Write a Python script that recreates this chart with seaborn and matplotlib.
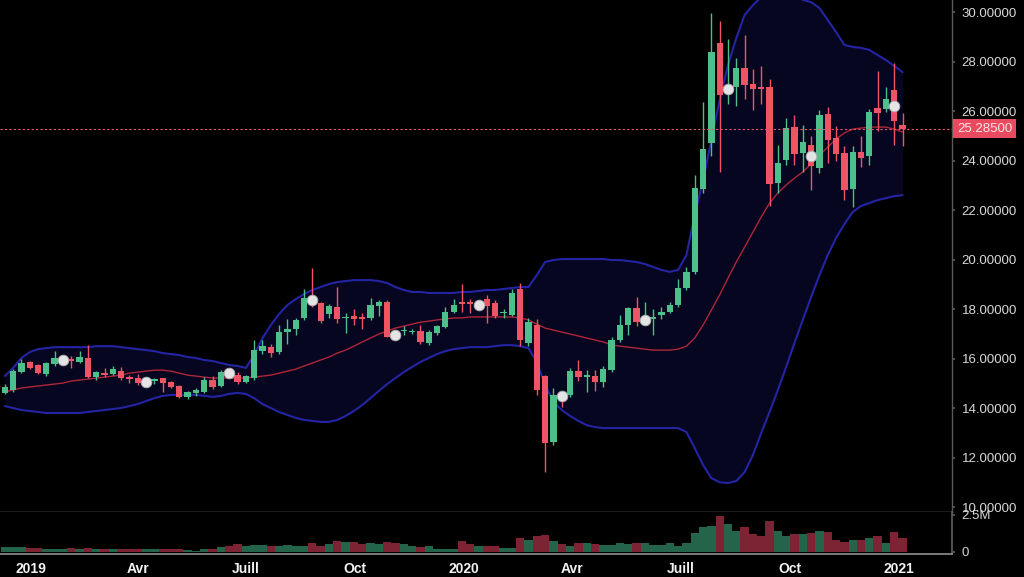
import numpy as np
import pandas as pd
import seaborn as sns
import matplotlib.pyplot as plt
import matplotlib.transforms as mtransforms

# --- weekly candles (first week = 2018-12-10) ---
first_week = "2018-12-10"
opens = [14.62, 14.72, 15.45, 15.86, 15.74, 15.37, 15.78, 15.90, 15.96, 15.86,
         16.02, 15.25, 15.41, 15.37, 15.50, 15.25, 15.20, 15.00, 15.10, 15.20,
         15.05, 14.89, 14.44, 14.60, 14.65, 15.13, 14.89, 15.45, 15.33, 15.05,
         15.20, 16.30, 16.46, 16.26, 17.07, 17.20, 17.64, 18.45, 18.24, 17.80,
         18.08, 17.62, 17.72, 17.68, 17.64, 18.12, 18.28, 17.00, 17.12, 17.08,
         17.10, 16.63, 17.03, 17.27, 17.88, 18.28, 18.26, 18.10, 18.40, 18.24,
         17.82, 17.76, 18.80, 16.63, 17.35, 15.29, 12.63, 14.55, 14.53, 15.50,
         15.27, 15.29, 15.05, 15.53, 16.75, 17.35, 18.04, 17.50, 17.60, 17.76,
         17.88, 18.16, 18.85, 19.50, 22.85, 24.70, 28.75, 26.75, 26.97, 27.74,
         27.09, 26.97, 26.97, 23.10, 24.02, 25.35, 24.30, 24.63, 23.70, 25.88,
         24.90, 24.30, 22.85, 24.34, 24.18, 26.12, 26.08, 26.85, 25.45]
highs = [14.97, 15.57, 15.98, 15.90, 15.78, 15.86, 16.30, 16.10, 16.10, 16.30,
         16.55, 15.50, 15.60, 15.70, 15.65, 15.33, 15.37, 15.10, 15.20, 15.20,
         15.10, 14.93, 14.70, 14.80, 15.25, 15.30, 15.55, 15.55, 15.45, 15.35,
         16.75, 16.75, 16.60, 17.35, 17.60, 17.65, 18.80, 19.65, 18.30, 18.20,
         18.90, 17.84, 18.00, 17.84, 18.45, 18.35, 18.35, 17.10, 17.30, 17.20,
         17.35, 17.15, 17.35, 18.10, 18.40, 19.00, 18.40, 18.30, 18.55, 18.35,
         18.00, 18.80, 19.05, 17.65, 17.60, 15.35, 14.80, 14.60, 15.60, 15.94,
         15.53, 15.53, 15.70, 16.87, 17.75, 18.10, 18.48, 18.30, 18.00, 18.10,
         18.30, 19.20, 19.70, 23.40, 26.36, 29.95, 29.64, 28.90, 28.14, 29.07,
         27.70, 27.82, 27.30, 24.63, 25.70, 25.85, 25.45, 25.00, 26.04, 26.15,
         25.40, 24.60, 24.60, 25.00, 26.10, 27.62, 26.95, 27.95, 25.90]
lows = [14.58, 14.65, 15.41, 15.57, 15.37, 15.29, 15.70, 15.80, 15.62, 15.82,
        15.20, 15.15, 15.25, 15.33, 15.13, 15.00, 14.95, 14.95, 14.97, 14.65,
        14.80, 14.40, 14.38, 14.50, 14.60, 14.75, 14.85, 15.25, 14.98, 15.00,
        15.15, 16.20, 16.06, 16.20, 16.60, 16.95, 17.55, 18.10, 17.45, 17.65,
        17.43, 17.03, 17.35, 17.20, 17.55, 17.70, 16.85, 16.80, 16.95, 17.00,
        16.60, 16.55, 16.95, 17.25, 17.85, 17.88, 17.84, 18.00, 17.43, 17.65,
        17.65, 17.70, 16.50, 16.50, 14.53, 11.41, 12.50, 14.04, 14.45, 15.10,
        14.65, 14.69, 14.85, 15.45, 16.67, 16.95, 17.30, 17.45, 16.95, 17.60,
        17.82, 18.10, 18.75, 19.40, 22.70, 24.18, 23.54, 26.30, 26.20, 26.48,
        26.04, 26.30, 22.16, 22.69, 23.80, 23.80, 23.55, 22.80, 23.50, 23.90,
        24.00, 22.40, 22.12, 23.75, 23.80, 25.20, 25.95, 24.63, 24.60]
closes = [14.85, 15.50, 15.82, 15.62, 15.41, 15.82, 16.02, 15.98, 15.92, 16.06,
          15.25, 15.45, 15.33, 15.57, 15.20, 15.17, 15.00, 15.05, 15.17, 15.00,
          14.85, 14.44, 14.65, 14.73, 15.13, 14.85, 15.45, 15.35, 15.05, 15.29,
          16.34, 16.50, 16.22, 17.07, 17.20, 17.56, 18.44, 18.30, 17.52, 18.12,
          17.60, 17.66, 17.60, 17.60, 18.16, 18.28, 16.87, 16.92, 17.15, 17.12,
          16.67, 17.07, 17.30, 17.88, 18.16, 18.20, 18.22, 18.18, 18.12, 17.72,
          17.86, 18.65, 16.75, 17.47, 14.73, 12.59, 14.53, 14.45, 15.50, 15.25,
          15.31, 15.05, 15.57, 16.75, 17.35, 18.04, 17.47, 17.58, 17.68, 17.88,
          18.16, 18.85, 19.50, 22.89, 24.46, 28.38, 26.65, 26.95, 27.74, 27.05,
          26.89, 26.89, 23.05, 23.90, 25.31, 24.26, 24.75, 23.78, 25.84, 24.83,
          24.26, 22.80, 24.34, 24.10, 25.96, 25.92, 26.48, 25.60, 25.285]
volume_m = [0.30, 0.30, 0.30, 0.25, 0.25, 0.20, 0.20, 0.20, 0.25, 0.20,
            0.25, 0.15, 0.20, 0.20, 0.15, 0.20, 0.20, 0.15, 0.15, 0.20,
            0.20, 0.20, 0.08, 0.05, 0.15, 0.20, 0.30, 0.35, 0.50, 0.35,
            0.45, 0.45, 0.35, 0.40, 0.45, 0.35, 0.40, 0.55, 0.35, 0.50,
            0.75, 0.65, 0.65, 0.50, 0.55, 0.50, 0.65, 0.55, 0.50, 0.35,
            0.30, 0.35, 0.20, 0.15, 0.15, 0.70, 0.50, 0.35, 0.35, 0.35,
            0.25, 0.25, 0.90, 0.80, 1.05, 1.10, 0.70, 0.50, 0.40, 0.55,
            0.55, 0.50, 0.45, 0.45, 0.60, 0.50, 0.60, 0.55, 0.45, 0.45,
            0.55, 0.40, 0.60, 1.25, 1.70, 1.75, 2.40, 1.90, 1.40, 1.70,
            1.20, 1.05, 2.10, 1.40, 1.05, 1.20, 1.20, 1.25, 1.40, 1.30,
            0.80, 0.65, 0.80, 0.80, 0.90, 1.05, 0.60, 1.30, 0.90]

# --- Bollinger bands as drawn on the chart ---
upper_band = [15.29, 15.62, 16.02, 16.26, 16.38, 16.42, 16.46, 16.46, 16.46, 16.46,
              16.46, 16.50, 16.50, 16.50, 16.46, 16.42, 16.38, 16.34, 16.30, 16.22,
              16.18, 16.14, 16.06, 16.02, 15.94, 15.90, 15.82, 15.74, 15.70, 15.62,
              16.14, 16.83, 17.35, 17.80, 18.16, 18.40, 18.60, 18.77, 18.89, 19.01,
              19.09, 19.13, 19.17, 19.17, 19.17, 19.13, 19.05, 18.89, 18.77, 18.69,
              18.69, 18.65, 18.65, 18.65, 18.65, 18.69, 18.69, 18.73, 18.77, 18.77,
              18.81, 18.85, 18.89, 18.89, 19.37, 19.90, 19.98, 20.02, 20.02, 20.02,
              20.02, 20.02, 20.02, 19.98, 19.98, 19.94, 19.90, 19.82, 19.70, 19.58,
              19.50, 19.58, 20.18, 21.80, 23.21, 24.83, 26.45, 27.86, 28.95, 29.88,
              30.28, 30.60, 30.80, 30.89, 30.80, 30.69, 30.49, 30.40, 30.16, 29.68,
              29.19, 28.67, 28.59, 28.55, 28.47, 28.26, 28.06, 27.82, 27.57]
middle_band = [14.65, 14.73, 14.81, 14.85, 14.89, 14.93, 14.97, 15.01, 15.09, 15.13,
               15.17, 15.21, 15.25, 15.29, 15.33, 15.41, 15.45, 15.49, 15.53, 15.53,
               15.49, 15.41, 15.33, 15.29, 15.25, 15.21, 15.21, 15.21, 15.21, 15.21,
               15.25, 15.29, 15.33, 15.41, 15.49, 15.57, 15.70, 15.82, 15.94, 16.06,
               16.22, 16.34, 16.50, 16.67, 16.83, 16.99, 17.11, 17.23, 17.31, 17.39,
               17.47, 17.51, 17.56, 17.60, 17.64, 17.64, 17.68, 17.68, 17.68, 17.68,
               17.68, 17.68, 17.64, 17.56, 17.39, 17.23, 17.15, 17.07, 16.99, 16.91,
               16.83, 16.75, 16.67, 16.55, 16.50, 16.46, 16.42, 16.38, 16.34, 16.34,
               16.34, 16.38, 16.50, 16.83, 17.35, 17.96, 18.57, 19.25, 19.90, 20.50,
               21.11, 21.72, 22.28, 22.69, 23.01, 23.29, 23.54, 23.86, 24.22, 24.54,
               24.87, 25.11, 25.27, 25.31, 25.35, 25.35, 25.35, 25.27, 25.15]
lower_band = [14.08, 14.00, 13.92, 13.88, 13.84, 13.80, 13.80, 13.80, 13.80, 13.80,
              13.84, 13.88, 13.92, 13.96, 14.00, 14.08, 14.16, 14.28, 14.40, 14.49,
              14.53, 14.53, 14.53, 14.53, 14.49, 14.45, 14.49, 14.57, 14.61, 14.57,
              14.40, 14.16, 14.00, 13.84, 13.72, 13.60, 13.52, 13.48, 13.44, 13.44,
              13.52, 13.68, 13.88, 14.12, 14.40, 14.69, 14.97, 15.21, 15.45, 15.66,
              15.86, 16.02, 16.18, 16.30, 16.38, 16.42, 16.46, 16.46, 16.46, 16.50,
              16.54, 16.54, 16.50, 16.42, 15.86, 14.93, 14.24, 13.92, 13.68, 13.48,
              13.31, 13.23, 13.19, 13.19, 13.19, 13.19, 13.19, 13.19, 13.19, 13.19,
              13.19, 13.19, 13.03, 12.38, 11.70, 11.17, 11.00, 10.97, 11.05, 11.41,
              12.10, 12.99, 13.84, 14.73, 15.66, 16.63, 17.56, 18.48, 19.37, 20.18,
              20.87, 21.43, 21.92, 22.16, 22.28, 22.40, 22.48, 22.56, 22.60]

# event dots (every 10th week)
marker_weeks = [7, 17, 27, 37, 47, 57, 67, 77, 87, 97, 107]
marker_values = [15.94, 15.05, 15.40, 18.36, 16.95, 18.16, 14.49, 17.55, 26.90, 24.18, 26.20]

last_price = 25.285
price_ticks = [10, 12, 14, 16, 18, 20, 22, 24, 26, 28, 30]
tick_dates = ["2019-01-01", "2019-04-01", "2019-07-01", "2019-10-01", "2020-01-01",
              "2020-04-01", "2020-07-01", "2020-10-01", "2021-01-01"]
tick_labels = ["2019", "Avr", "Juill", "Oct", "2020", "Avr", "Juill", "Oct", "2021"]

# --- style ---
sns.set_theme(style="dark", rc={"axes.facecolor": "black", "figure.facecolor": "black"})
plt.rcParams["font.family"] = ["Liberation Sans", "DejaVu Sans"]

GREEN, RED = "#4cbf8a", "#ef5466"
VGREEN, VRED = "#23644a", "#7c2434"
GRID = "#5a5a5a"

df = pd.DataFrame({"open": opens, "high": highs, "low": lows, "close": closes,
                   "vol": volume_m, "upper": upper_band, "mid": middle_band,
                   "lower": lower_band})
df["date"] = pd.date_range(first_week, periods=len(df), freq="7D")
up = df["close"] >= df["open"]
candle_col = np.where(up, GREEN, RED)
vol_col = np.where(up, VGREEN, VRED)

fig = plt.figure(figsize=(10.24, 5.77), dpi=100)
ax = fig.add_axes([0, 65 / 577, 952 / 1024, 512 / 577])
axv = fig.add_axes([0, 23 / 577, 952 / 1024, 42 / 577], sharex=ax)

# bands
ax.fill_between(df["date"], df["lower"], df["upper"], color="#060620", zorder=1, linewidth=0)
sns.lineplot(data=df, x="date", y="upper", ax=ax, color="#2424a4", linewidth=1.5, zorder=2)
sns.lineplot(data=df, x="date", y="lower", ax=ax, color="#2424a4", linewidth=1.5, zorder=2)
sns.lineplot(data=df, x="date", y="mid", ax=ax, color="#ad263a", linewidth=1.0, zorder=2)

# candles
ax.vlines(df["date"], df["low"], df["high"], colors=candle_col, linewidth=1.0, zorder=3)
body_low = np.minimum(df["open"], df["close"])
body_h = np.maximum(np.abs(df["close"] - df["open"]), 0.05)
ax.bar(df["date"], body_h, bottom=body_low, width=5.3, color=candle_col, zorder=4, linewidth=0)

# event dots
sns.scatterplot(x=df["date"].iloc[marker_weeks], y=marker_values, ax=ax, s=60,
                color="#e4e4e4", edgecolor="#a8a8a8", linewidth=0.6, zorder=5)

# last price line + label
ax.axhline(last_price, color="#e85a6a", linestyle=(0, (2, 2)), linewidth=0.8, zorder=6)
trans = mtransforms.blended_transform_factory(ax.transAxes, ax.transData)
ax.text(1.0 + 5 / 952, last_price, f"{last_price:.5f}", transform=trans, ha="left",
        va="center", fontsize=9.5, color="#ffe4e6", clip_on=False,
        bbox=dict(boxstyle="square,pad=0.28", facecolor="#e84a5f", edgecolor="none"))

ax.set_ylim(9.8, 30.485)
ax.set_xlim(pd.Timestamp("2018-12-06"), pd.Timestamp("2021-02-14 15:00"))
ax.yaxis.tick_right()
ax.set_yticks(price_ticks)
ax.set_yticklabels([f"{v:.5f}" for v in price_ticks])
ax.tick_params(axis="y", colors=GRID, labelcolor="#d8d8d8", labelsize=9.5, length=2.5, pad=4.5)
ax.tick_params(axis="x", bottom=False, labelbottom=False)
ax.set_xlabel("")
ax.set_ylabel("")
for side in ["left", "top"]:
    ax.spines[side].set_visible(False)
ax.spines["right"].set_color(GRID)
ax.spines["bottom"].set_color("#8a8a8a")
ax.spines["right"].set_linewidth(1)
ax.spines["bottom"].set_linewidth(1)
ax.grid(False)

# volume
axv.bar(df["date"], df["vol"], width=7, color=vol_col, linewidth=0)
axv.set_ylim(-0.17, 2.7)
axv.yaxis.tick_right()
axv.set_yticks([0, 2.5])
axv.set_yticklabels(["0", "2.5M"])
axv.tick_params(axis="y", colors=GRID, labelcolor="#d8d8d8", labelsize=9.5, length=2.5, pad=4.5)
axv.set_xticks(pd.to_datetime(tick_dates))
axv.set_xticklabels(tick_labels)
axv.tick_params(axis="x", colors="#8a8a8a", labelcolor="#f2f2f2", labelsize=10, length=3, pad=3)
for lab in axv.get_xticklabels():
    lab.set_fontweight("bold")
for side in ["left", "top"]:
    axv.spines[side].set_visible(False)
axv.spines["right"].set_color(GRID)
axv.spines["bottom"].set_color("#8a8a8a")
axv.grid(False)

fig.savefig("out.png", dpi=100, facecolor="black")
